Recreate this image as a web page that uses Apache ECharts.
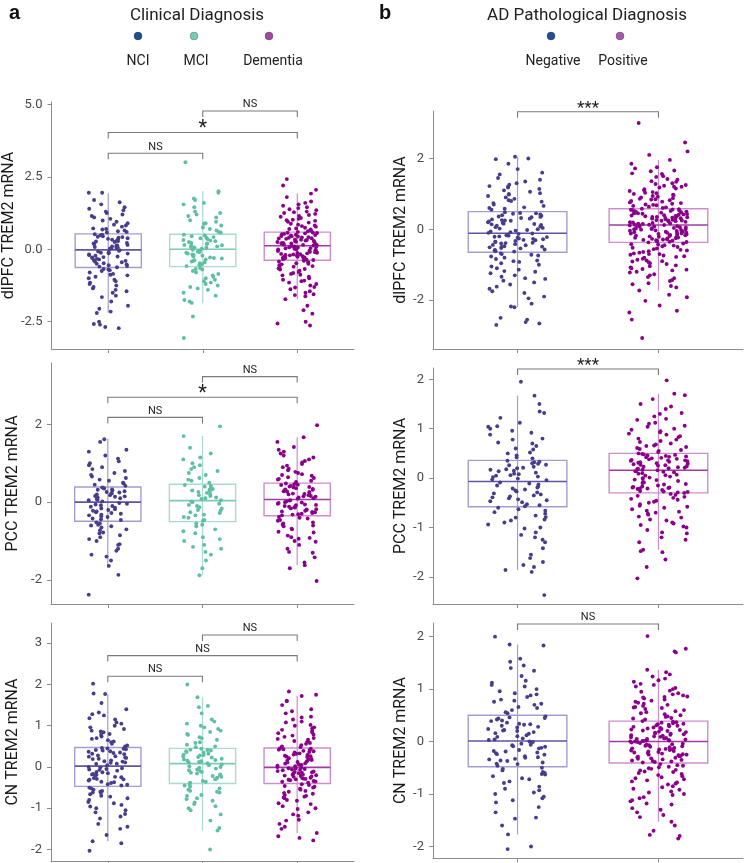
<!DOCTYPE html>
<html><head><meta charset="utf-8">
<script src="https://cdn.jsdelivr.net/npm/echarts@6/dist/echarts.min.js"></script>
<style>html,body{margin:0;padding:0;background:#fff}#c{width:749px;height:863px}</style>
</head><body><div id="c"></div>
<script>
// ---------- labels ----------
const clinicalGroups = ['NCI', 'MCI', 'Dementia'];
const pathGroups = ['Negative', 'Positive'];
const clinicalTitle = 'Clinical Diagnosis';
const pathTitle = 'AD Pathological Diagnosis';
const regionLabels = ['dlPFC TREM2 mRNA', 'PCC TREM2 mRNA', 'CN TREM2 mRNA'];
const panelLetters = ['a', 'b'];

// ---------- tick labels ----------
const ticksDlpfcClinical = [-2.5, 0, 2.5, 5];
const ticksPccClinical = [-2, 0, 2];
const ticksCnClinical = [-2, -1, 0, 1, 2, 3];
const ticksDlpfcPath = [-2, 0, 2];
const ticksPccPath = [-2, -1, 0, 1, 2];
const ticksCnPath = [-2, -1, 0, 1, 2];

// ---------- box stats: [low whisker, Q1, median, Q3, high whisker] ----------
const dlpfcClinicalBox = [[-2.19, -0.63, -0.02, 0.53, 1.93], [-1.86, -0.6, 0.0, 0.52, 2.01], [-1.72, -0.38, 0.12, 0.59, 1.93]];
const pccClinicalBox = [[-1.65, -0.49, 0.0, 0.39, 1.64], [-1.88, -0.5, 0.04, 0.46, 1.7], [-1.62, -0.35, 0.07, 0.49, 1.67]];
const cnClinicalBox = [[-1.8, -0.47, 0.02, 0.47, 1.77], [-1.54, -0.4, 0.08, 0.45, 1.69], [-1.6, -0.4, -0.01, 0.46, 1.72]];
const dlpfcPathBox = [[-2.2, -0.65, -0.11, 0.5, 2.05], [-1.73, -0.37, 0.12, 0.58, 1.96]];
const pccPathBox = [[-1.86, -0.58, -0.07, 0.36, 1.67], [-1.45, -0.3, 0.16, 0.5, 1.71]];
const cnPathBox = [[-1.77, -0.48, 0.01, 0.5, 1.85], [-1.53, -0.41, 0.0, 0.39, 1.37]];

// ---------- significance brackets: [from group, to group, y, label] ----------
const dlpfcClinicalSig = [[2, 3, 4.77, 'NS'], [1, 3, 4.03, '*'], [1, 2, 3.31, 'NS']];
const pccClinicalSig = [[2, 3, 3.23, 'NS'], [1, 3, 2.7, '*'], [1, 2, 2.18, 'NS']];
const cnClinicalSig = [[2, 3, 3.2, 'NS'], [1, 3, 2.7, 'NS'], [1, 2, 2.2, 'NS']];
const dlpfcPathSig = [[1, 2, 3.32, '***']];
const pccPathSig = [[1, 2, 2.21, '***']];
const cnPathSig = [[1, 2, 2.24, 'NS']];

// ---------- individual values ----------
const dlpfcNCI = [0.6,0.72,0.85,1.95,1.7,1.4,1.25,0.95,1.1,0.65,0.78,1.55,1.3,0.9,0.58,1.05,1.62,0.68,1.2,0.82,1.35,0.7,1.95,1.15,0.62,1.45,0.99,
0.5,0.42,0.3,0.12,0.05,0.22,0.35,0.48,0.18,0.02,0.27,0.4,0.08,0.33,0.15,0.45,0.25,0.1,0.38,0.2,0.03,0.52,0.28,0.13,0.43,0.07,0.36,
-0.05,-0.12,-0.2,-0.3,-0.42,-0.55,-0.6,-0.08,-0.25,-0.35,-0.48,-0.15,-0.38,-0.52,-0.03,-0.28,-0.45,-0.18,-0.58,-0.1,-0.33,-0.22,-0.5,-0.4,-0.62,-0.14,-0.27,
-0.7,-0.85,-1.0,-1.2,-1.45,-1.6,-0.75,-0.95,-1.3,-1.8,-2.05,-2.2,-0.68,-1.1,-1.5,-0.9,-1.35,-2.15,-0.8,-1.05,-1.25,-1.65,-0.72,-1.4,-1.15,-0.88,-1.95,
-2.5,-2.6,-2.72,-2.58,-2.68];
const dlpfcMCI = [0.6,0.75,0.9,1.1,1.3,1.55,1.75,2.0,1.95,0.65,0.82,1.0,1.2,1.45,1.7,0.58,0.7,0.95,1.15,1.6,0.88,1.25,
0.5,0.45,0.38,0.3,0.22,0.15,0.08,0.02,0.48,0.35,0.25,0.12,0.05,0.42,0.28,0.18,0.1,0.4,0.32,0.2,0.06,0.14,
-0.05,-0.1,-0.18,-0.25,-0.32,-0.4,-0.48,-0.55,-0.08,-0.15,-0.22,-0.3,-0.38,-0.45,-0.52,-0.58,-0.12,-0.2,-0.35,-0.42,-0.28,-0.02,
-0.65,-0.75,-0.9,-1.05,-1.2,-1.4,-1.6,-1.8,-0.7,-0.85,-1.0,-1.15,-1.3,-1.5,-1.75,-0.8,-0.95,-1.1,-1.25,-1.85,-0.68,-1.35,
3.0,-2.32,-3.06];
const dlpfcDementia = [0.62,0.7,0.78,0.85,0.92,1.0,1.08,1.15,1.22,1.3,1.38,1.45,1.55,1.65,1.8,1.92,0.65,0.74,0.82,0.95,1.05,1.12,1.25,1.35,1.5,1.6,0.6,0.68,0.88,0.98,1.18,1.42,0.72,0.8,1.02,1.28,
0.58,0.55,0.5,0.46,0.42,0.38,0.34,0.3,0.26,0.22,0.18,0.14,0.56,0.52,0.48,0.44,0.4,0.36,0.32,0.28,0.24,0.2,0.16,0.13,0.57,0.49,0.41,0.33,0.25,0.17,0.53,0.45,0.37,0.29,0.21,0.15,
0.1,0.06,0.02,-0.02,-0.06,-0.1,-0.14,-0.18,-0.22,-0.26,-0.3,-0.34,0.08,0.04,0.0,-0.04,-0.08,-0.12,-0.16,-0.2,-0.24,-0.28,-0.32,-0.36,0.11,0.03,-0.05,-0.13,-0.21,-0.29,-0.37,0.07,-0.01,-0.09,-0.17,-0.25,
-0.4,-0.45,-0.5,-0.55,-0.62,-0.7,-0.78,-0.85,-0.95,-1.05,-1.15,-1.25,-1.38,-1.5,-1.62,-1.72,-0.42,-0.48,-0.58,-0.66,-0.74,-0.82,-0.9,-1.0,-1.1,-1.2,-1.32,-1.45,-1.58,-0.52,-0.6,-0.68,-0.88,-1.08,-1.3,-1.55,
2.2,2.42,2.05,-1.95,-2.1,-2.22,-2.5,-2.56,-2.63];

const pccNCI = [0.42,0.5,0.58,0.66,0.75,0.85,0.95,1.05,1.2,1.35,1.55,1.62,0.45,0.55,0.62,0.7,0.8,0.9,1.0,1.12,1.3,0.48,
0.38,0.35,0.32,0.28,0.25,0.22,0.18,0.15,0.12,0.08,0.05,0.02,0.36,0.3,0.26,0.2,0.14,0.1,0.06,0.33,0.23,0.16,
-0.02,-0.06,-0.1,-0.14,-0.18,-0.22,-0.26,-0.3,-0.34,-0.38,-0.42,-0.46,-0.04,-0.08,-0.12,-0.2,-0.28,-0.36,-0.44,-0.16,-0.24,-0.32,
-0.52,-0.58,-0.65,-0.72,-0.8,-0.9,-1.0,-1.1,-1.2,-1.35,-1.5,-1.64,-0.55,-0.62,-0.7,-0.85,-0.95,-1.08,-1.25,-1.4,-0.6,-0.78,
-1.87,-2.38];
const pccMCI = [0.5,0.55,0.62,0.7,0.8,0.9,1.0,1.1,1.25,1.4,1.7,1.95,0.58,0.75,0.95,1.15,0.85,
0.44,0.4,0.36,0.32,0.28,0.24,0.2,0.16,0.12,0.08,0.05,0.42,0.34,0.26,0.18,0.1,0.3,
0.02,-0.04,-0.1,-0.16,-0.22,-0.28,-0.34,-0.4,-0.46,0.0,-0.07,-0.13,-0.2,-0.26,-0.32,-0.38,-0.48,
-0.55,-0.62,-0.7,-0.8,-0.9,-1.0,-1.1,-1.2,-1.35,-1.5,-1.7,-1.88,-0.58,-0.75,-0.95,-1.15,-1.28];
const pccDementia = [0.52,0.58,0.64,0.7,0.78,0.86,0.94,1.02,1.1,1.2,1.3,1.42,1.55,1.67,0.55,0.62,0.68,0.75,0.82,0.9,0.98,1.06,1.15,1.25,1.35,0.6,0.72,
0.48,0.45,0.42,0.39,0.36,0.33,0.3,0.27,0.24,0.21,0.18,0.15,0.12,0.09,0.46,0.4,0.34,0.28,0.22,0.16,0.1,0.44,0.38,0.32,0.26,0.2,0.14,
0.05,0.02,-0.01,-0.04,-0.07,-0.1,-0.13,-0.16,-0.19,-0.22,-0.25,-0.28,-0.31,-0.34,0.04,-0.02,-0.08,-0.14,-0.2,-0.26,-0.32,0.0,-0.06,-0.12,-0.18,-0.24,-0.3,
-0.38,-0.42,-0.48,-0.55,-0.62,-0.7,-0.78,-0.86,-0.94,-1.02,-1.1,-1.2,-1.3,-1.42,-1.55,-1.62,-0.4,-0.46,-0.52,-0.6,-0.68,-0.76,-0.9,-0.92,-1.0,-1.28,-0.58,
1.98,-2.03,-1.7];

const cnNCI = [0.5,0.56,0.62,0.68,0.74,0.8,0.86,0.92,1.0,1.08,1.18,1.28,1.4,1.55,1.77,0.52,0.6,0.7,0.78,0.88,0.96,1.05,1.15,1.25,1.32,0.65,0.84,
0.46,0.43,0.4,0.37,0.34,0.31,0.28,0.25,0.22,0.19,0.16,0.13,0.1,0.07,0.04,0.44,0.38,0.32,0.26,0.2,0.14,0.08,0.45,0.35,0.23,0.11,0.41,
0.0,-0.03,-0.06,-0.09,-0.12,-0.15,-0.18,-0.21,-0.24,-0.27,-0.3,-0.33,-0.36,-0.39,-0.42,-0.45,-0.01,-0.07,-0.13,-0.19,-0.25,-0.31,-0.37,-0.43,-0.05,-0.17,-0.29,
-0.5,-0.55,-0.6,-0.66,-0.72,-0.8,-0.88,-0.96,-1.05,-1.14,-1.25,-1.38,-1.5,-1.65,-1.8,-0.52,-0.58,-0.63,-0.7,-0.85,-0.92,-1.0,-1.1,-1.2,-1.45,-0.62,-0.76,
2.02,1.78,-2.03,-1.85];
const cnMCI = [0.48,0.54,0.6,0.66,0.72,0.8,0.88,0.96,1.05,1.15,1.3,1.45,1.69,0.5,0.58,0.7,0.78,0.85,0.92,1.0,1.1,1.48,
0.44,0.41,0.38,0.35,0.32,0.29,0.26,0.23,0.2,0.17,0.14,0.11,0.09,0.42,0.36,0.3,0.24,0.18,0.12,0.4,0.28,0.15,
0.06,0.02,-0.02,-0.06,-0.1,-0.14,-0.18,-0.22,-0.26,-0.3,-0.34,-0.38,0.04,-0.04,-0.12,-0.2,-0.28,-0.36,0.0,-0.08,-0.16,-0.24,
-0.42,-0.48,-0.55,-0.62,-0.7,-0.78,-0.86,-0.95,-1.05,-1.15,-1.3,-1.54,-0.45,-0.52,-0.6,-0.68,-0.76,-0.9,-1.0,-1.48,-0.58,-0.82,
2.0,-2.0];
const cnDementia = [0.48,0.53,0.58,0.63,0.68,0.73,0.78,0.84,0.9,0.96,1.02,1.08,1.15,1.22,1.3,1.4,1.5,1.6,1.72,0.5,0.56,0.62,0.7,0.76,0.82,0.88,0.94,1.0,1.1,1.2,1.35,0.66,
0.45,0.42,0.39,0.36,0.33,0.3,0.27,0.24,0.21,0.18,0.15,0.12,0.09,0.06,0.03,0.0,0.44,0.38,0.32,0.26,0.2,0.14,0.08,0.02,0.43,0.35,0.25,0.17,0.11,0.05,0.41,0.29,
-0.02,-0.04,-0.06,-0.08,-0.1,-0.12,-0.14,-0.16,-0.18,-0.2,-0.22,-0.24,-0.26,-0.28,-0.3,-0.32,-0.34,-0.36,-0.38,-0.03,-0.07,-0.11,-0.15,-0.19,-0.23,-0.27,-0.31,-0.35,-0.05,-0.13,-0.21,-0.29,
-0.42,-0.46,-0.5,-0.55,-0.6,-0.65,-0.7,-0.76,-0.82,-0.88,-0.95,-1.02,-1.1,-1.18,-1.28,-1.38,-1.5,-1.6,-0.44,-0.48,-0.53,-0.58,-0.63,-0.68,-0.74,-0.8,-0.9,-1.0,-1.15,-1.3,-1.45,-0.72,
1.83,1.75,1.6,-1.78,-1.72,-1.68];

const dlpfcNegative = [0.55,0.62,0.7,0.78,0.86,0.94,1.02,1.1,1.18,1.26,1.35,1.45,1.55,1.7,1.85,2.05,2.0,1.98,0.58,0.66,0.74,0.82,0.9,0.98,1.06,1.14,1.22,1.3,1.4,1.6,0.6,0.8,1.0,1.2,
0.48,0.44,0.4,0.36,0.32,0.28,0.24,0.2,0.16,0.12,0.08,0.04,0.0,-0.04,-0.08,0.46,0.42,0.38,0.34,0.3,0.26,0.22,0.18,0.14,0.1,0.06,0.02,-0.02,-0.06,-0.1,0.45,0.35,0.25,0.15,
-0.12,-0.15,-0.18,-0.21,-0.24,-0.27,-0.3,-0.33,-0.36,-0.39,-0.42,-0.45,-0.48,-0.51,-0.54,-0.57,-0.6,-0.63,-0.13,-0.17,-0.22,-0.26,-0.31,-0.35,-0.4,-0.44,-0.49,-0.53,-0.58,-0.62,-0.2,-0.28,-0.38,-0.5,
-0.68,-0.74,-0.8,-0.88,-0.96,-1.05,-1.14,-1.24,-1.34,-1.45,-1.56,-1.68,-1.8,-1.95,-2.1,-2.2,-0.7,-0.77,-0.84,-0.92,-1.0,-1.1,-1.2,-1.3,-1.4,-1.5,-1.62,-1.75,-1.9,-2.18,-0.72,-0.9,-1.18,-1.38,
-2.5,-2.55,-2.62,-2.7,-2.66];
const dlpfcPositive = [0.6,0.64,0.68,0.72,0.76,0.8,0.84,0.88,0.92,0.96,1.0,1.05,1.1,1.15,1.2,1.25,1.3,1.36,1.42,1.5,1.58,1.66,1.75,1.85,1.96,0.62,0.66,0.7,0.74,0.78,0.82,0.86,0.9,0.94,0.98,1.03,1.08,1.13,1.18,1.23,1.28,1.34,1.4,1.48,1.56,1.64,1.72,0.69,0.85,1.02,1.2,
0.57,0.55,0.53,0.51,0.49,0.47,0.45,0.43,0.41,0.39,0.37,0.35,0.33,0.31,0.29,0.27,0.25,0.23,0.21,0.19,0.17,0.15,0.13,0.56,0.52,0.48,0.44,0.4,0.36,0.32,0.28,0.24,0.2,0.16,0.14,0.54,0.46,0.38,0.3,0.22,0.18,0.5,0.42,0.34,0.26,0.58,0.12,0.13,0.35,0.45,0.25,
0.11,0.09,0.07,0.05,0.03,0.01,-0.01,-0.03,-0.05,-0.07,-0.09,-0.11,-0.13,-0.15,-0.17,-0.19,-0.21,-0.23,-0.25,-0.27,-0.29,-0.31,-0.33,-0.35,-0.37,0.1,0.06,0.02,-0.02,-0.06,-0.1,-0.14,-0.18,-0.22,-0.26,-0.3,-0.34,0.08,0.0,-0.08,-0.16,-0.24,-0.32,0.04,-0.04,-0.12,-0.2,-0.28,-0.36,0.0,-0.1,
-0.4,-0.43,-0.46,-0.5,-0.54,-0.58,-0.62,-0.66,-0.7,-0.74,-0.78,-0.83,-0.88,-0.93,-0.98,-1.04,-1.1,-1.16,-1.22,-1.3,-1.38,-1.46,-1.55,-1.64,-1.73,-0.42,-0.45,-0.48,-0.52,-0.56,-0.6,-0.64,-0.68,-0.72,-0.76,-0.8,-0.86,-0.91,-0.96,-1.02,-1.08,-1.14,-1.2,-1.27,-1.35,-1.43,-1.52,-1.6,-0.7,-0.9,-1.12,
3.0,2.45,2.2,2.1,-1.85,-1.92,-2.02,-2.15,-2.3,-2.35,-2.55,-3.07];

const pccNegative = [0.4,0.46,0.52,0.58,0.65,0.72,0.8,0.88,0.96,1.04,1.12,1.22,1.35,1.5,1.67,0.42,0.5,0.6,0.7,0.78,0.92,1.0,1.32,1.05,
0.35,0.32,0.29,0.26,0.23,0.2,0.17,0.14,0.11,0.08,0.05,0.02,-0.01,-0.04,0.33,0.27,0.21,0.15,0.09,0.03,-0.03,0.3,0.18,0.06,
-0.09,-0.13,-0.17,-0.21,-0.25,-0.29,-0.33,-0.37,-0.41,-0.45,-0.49,-0.53,-0.57,-0.11,-0.15,-0.23,-0.31,-0.39,-0.47,-0.55,-0.19,-0.27,-0.35,-0.43,
-0.6,-0.66,-0.72,-0.79,-0.86,-0.94,-1.02,-1.1,-1.2,-1.3,-1.42,-1.55,-1.7,-1.86,-0.63,-0.69,-0.76,-0.84,-0.9,-1.0,-1.15,-1.25,-1.62,-0.8,
1.95,-2.37,-1.9,-1.8,-1.76];
const pccPositive = [0.53,0.57,0.61,0.65,0.7,0.75,0.8,0.85,0.9,0.95,1.0,1.06,1.12,1.18,1.25,1.32,1.4,1.5,1.6,1.71,0.55,0.59,0.63,0.68,0.73,0.78,0.83,0.88,0.93,0.98,1.04,1.1,1.2,1.3,1.45,0.66,
0.49,0.47,0.45,0.43,0.41,0.39,0.37,0.35,0.33,0.31,0.29,0.27,0.25,0.23,0.21,0.19,0.17,0.48,0.44,0.4,0.36,0.32,0.28,0.24,0.2,0.46,0.38,0.3,0.22,0.18,0.42,0.34,0.26,0.5,0.16,0.36,
0.15,0.12,0.09,0.06,0.03,0.0,-0.03,-0.06,-0.09,-0.12,-0.15,-0.18,-0.21,-0.24,-0.27,-0.3,0.14,0.1,0.05,0.01,-0.04,-0.08,-0.13,-0.17,-0.22,-0.26,-0.29,0.13,0.07,-0.01,-0.1,-0.19,-0.28,-0.2,-0.19,-0.21,
-0.32,-0.36,-0.4,-0.44,-0.48,-0.53,-0.58,-0.63,-0.68,-0.74,-0.8,-0.86,-0.92,-0.98,-1.05,-1.12,-1.2,-1.3,-1.45,-0.34,-0.38,-0.42,-0.46,-0.5,-0.56,-0.6,-0.66,-0.72,-0.78,-0.84,-0.9,-0.95,-1.0,-1.1,-1.25,-0.7,
1.98,1.68,-1.48,-1.65,-1.8,-2.03,-1.5];

const cnNegative = [0.54,0.6,0.66,0.72,0.78,0.85,0.92,1.0,1.08,1.16,1.25,1.35,1.45,1.52,1.85,0.56,0.64,0.7,0.8,0.88,0.96,1.05,1.12,1.4,1.58,0.9,0.76,
0.48,0.45,0.42,0.39,0.36,0.33,0.3,0.27,0.24,0.21,0.18,0.15,0.12,0.09,0.06,0.03,0.46,0.4,0.34,0.28,0.22,0.16,0.1,0.04,0.44,0.32,0.2,
-0.01,-0.04,-0.07,-0.1,-0.13,-0.16,-0.19,-0.22,-0.25,-0.28,-0.31,-0.34,-0.37,-0.4,-0.43,-0.46,0.0,-0.06,-0.12,-0.18,-0.24,-0.3,-0.36,-0.42,-0.09,-0.21,-0.33,
-0.5,-0.55,-0.6,-0.66,-0.72,-0.79,-0.86,-0.93,-1.0,-1.08,-1.16,-1.25,-1.35,-1.47,-1.6,-1.77,-0.52,-0.58,-0.63,-0.7,-0.76,-0.9,-0.97,-1.05,-1.12,-1.45,-0.62,
2.0,1.83,-2.0,-2.05];
const cnPositive = [0.42,0.45,0.48,0.52,0.56,0.6,0.64,0.68,0.72,0.76,0.8,0.84,0.88,0.92,0.97,1.02,1.08,1.14,1.2,1.28,1.37,0.44,0.47,0.5,0.54,0.58,0.62,0.66,0.7,0.74,0.78,0.82,0.86,0.9,0.95,1.0,1.05,1.1,1.17,1.24,1.32,0.65,0.85,
0.38,0.36,0.34,0.32,0.3,0.28,0.26,0.24,0.22,0.2,0.18,0.16,0.14,0.12,0.1,0.08,0.06,0.04,0.02,0.37,0.33,0.29,0.25,0.21,0.17,0.13,0.09,0.05,0.01,0.35,0.27,0.19,0.11,0.03,0.31,0.23,0.15,0.07,0.39,0.0,0.02,0.01,0.05,
-0.01,-0.03,-0.05,-0.07,-0.09,-0.11,-0.13,-0.15,-0.17,-0.19,-0.21,-0.23,-0.25,-0.27,-0.29,-0.31,-0.33,-0.35,-0.37,-0.39,-0.02,-0.06,-0.1,-0.14,-0.18,-0.22,-0.26,-0.3,-0.34,-0.38,-0.04,-0.12,-0.2,-0.28,-0.36,-0.08,-0.16,-0.24,-0.32,-0.4,0.0,-0.15,-0.25,
-0.43,-0.46,-0.49,-0.52,-0.55,-0.58,-0.62,-0.66,-0.7,-0.74,-0.78,-0.82,-0.87,-0.92,-0.97,-1.02,-1.08,-1.14,-1.2,-1.27,-1.35,-1.44,-1.53,-0.45,-0.48,-0.51,-0.54,-0.57,-0.6,-0.64,-0.68,-0.72,-0.76,-0.8,-0.85,-0.9,-0.95,-1.0,-1.06,-1.12,-1.18,-1.3,-1.4,
2.01,1.77,1.72,1.7,-1.6,-1.7,-1.78,-1.8,-1.85];

// ---------- styling ----------
const FONT = 'Roboto';
const styleNCI = { point: '#483d8b', box: '#a39dd2', med: '#5e55a8' };
const styleMCI = { point: '#5fc09e', box: '#a9dccb', med: '#7ccbb0' };
const styleDem = { point: '#8b008b', box: '#cf8ccf', med: '#a23aa6' };
const clinicalStyles = [styleNCI, styleMCI, styleDem];
const pathStyles = [styleNCI, styleDem];
const clinicalLegendColors = ['#1f4f8e', '#79c9b6', '#9c4c9f'];
const pathLegendColors = ['#1f4f8e', '#a55aa8'];

const panels = [
  { grid: { left: 50, top: 102, width: 304, height: 247 }, xMax: 3.6, yMin: -3.44, yMax: 5.08, ticks: ticksDlpfcClinical, dec: 1, name: regionLabels[0], box: dlpfcClinicalBox, pts: [dlpfcNCI, dlpfcMCI, dlpfcDementia], st: clinicalStyles, sig: dlpfcClinicalSig, gap: 27 },
  { grid: { left: 433, top: 111, width: 310, height: 238 }, xMax: 2.6, yMin: -3.38, yMax: 3.34, ticks: ticksDlpfcPath, dec: 0, name: regionLabels[0], box: dlpfcPathBox, pts: [dlpfcNegative, dlpfcPositive], st: pathStyles, sig: dlpfcPathSig, gap: 19 },
  { grid: { left: 51, top: 363, width: 303, height: 241 }, xMax: 3.6, yMin: -2.62, yMax: 3.58, ticks: ticksPccClinical, dec: 0, name: regionLabels[1], box: pccClinicalBox, pts: [pccNCI, pccMCI, pccDementia], st: clinicalStyles, sig: pccClinicalSig, gap: 30 },
  { grid: { left: 433, top: 368, width: 310, height: 236 }, xMax: 2.6, yMin: -2.55, yMax: 2.23, ticks: ticksPccPath, dec: 0, name: regionLabels[1], box: pccPathBox, pts: [pccNegative, pccPositive], st: pathStyles, sig: pccPathSig, gap: 19 },
  { grid: { left: 51, top: 623, width: 303, height: 238 }, xMax: 3.6, yMin: -2.28, yMax: 3.49, ticks: ticksCnClinical, dec: 0, name: regionLabels[2], box: cnClinicalBox, pts: [cnNCI, cnMCI, cnDementia], st: clinicalStyles, sig: cnClinicalSig, gap: 30 },
  { grid: { left: 433, top: 623, width: 310, height: 235 }, xMax: 2.6, yMin: -2.22, yMax: 2.26, ticks: ticksCnPath, dec: 0, name: regionLabels[2], box: cnPathBox, pts: [cnNegative, cnPositive], st: pathStyles, sig: cnPathSig, gap: 19 }
];

function jitter(i, g) {
  const s = Math.sin(i * 127.1 + g * 311.7 + 0.5) * 43758.5453;
  return (s - Math.floor(s) - 0.5) * 0.42;
}

const grids = [], xAxes = [], yAxes = [], series = [];
panels.forEach((p, k) => {
  grids.push(Object.assign({ containLabel: false }, p.grid));
  const xTicks = p.box.map((_, i) => i + 1);
  xAxes.push({
    type: 'value', gridIndex: k, min: 0.4, max: p.xMax,
    splitLine: { show: false },
    axisLine: { show: true, onZero: false, lineStyle: { color: '#8c8c8c', width: 1 } },
    axisTick: { show: true, length: 4, customValues: xTicks, lineStyle: { color: '#8c8c8c' } },
    axisLabel: { show: false }
  });
  yAxes.push({
    type: 'value', gridIndex: k, min: p.yMin, max: p.yMax,
    name: p.name, nameLocation: 'middle', nameGap: p.gap,
    nameTextStyle: { fontFamily: FONT, fontSize: 16, color: '#1a1a1a' },
    splitLine: { show: false },
    axisLine: { show: true, onZero: false, lineStyle: { color: '#8c8c8c', width: 1 } },
    axisTick: { show: true, length: 4, customValues: p.ticks, lineStyle: { color: '#8c8c8c' } },
    axisLabel: { show: true, customValues: p.ticks, margin: 9, fontFamily: FONT, fontSize: 13, color: '#4a4a4a',
      formatter: v => Number(v).toFixed(p.dec) }
  });
  // boxes
  const boxData = p.box.map((b, i) => [i + 1, b[0], b[1], b[2], b[3], b[4]]);
  series.push({
    type: 'custom', xAxisIndex: k, yAxisIndex: k, z: 2, silent: true,
    data: boxData,
    renderItem: (params, api) => {
      const x = api.value(0), lo = api.value(1), q1 = api.value(2), md = api.value(3), q3 = api.value(4), hi = api.value(5);
      const half = 0.35;
      const s = p.st[params.dataIndex];
      const a = api.coord([x, lo]), b = api.coord([x, hi]);
      const tl = api.coord([x - half, q3]), br = api.coord([x + half, q1]);
      const ml = api.coord([x - half, md]), mr = api.coord([x + half, md]);
      return { type: 'group', children: [
        { type: 'line', shape: { x1: a[0], y1: a[1], x2: b[0], y2: b[1] }, style: { stroke: s.box, lineWidth: 1.2 } },
        { type: 'rect', shape: { x: tl[0], y: tl[1], width: br[0] - tl[0], height: br[1] - tl[1] }, style: { fill: 'rgba(255,255,255,0)', stroke: s.box, lineWidth: 1.4 } },
        { type: 'line', shape: { x1: ml[0], y1: ml[1], x2: mr[0], y2: mr[1] }, style: { stroke: s.med, lineWidth: 1.6 } }
      ]};
    }
  });
  // points
  p.pts.forEach((vals, g) => {
    series.push({
      type: 'scatter', xAxisIndex: k, yAxisIndex: k, z: 3, silent: true,
      symbol: 'circle', symbolSize: 3.9,
      itemStyle: { color: p.st[g].point, opacity: 1 },
      data: vals.map((v, i) => [g + 1 + jitter(i, g + k * 3), v])
    });
  });
  // significance brackets
  series.push({
    type: 'custom', xAxisIndex: k, yAxisIndex: k, z: 4, silent: true, clip: false,
    data: p.sig.map(s => [s[0], s[1], s[2]]),
    renderItem: (params, api) => {
      const item = p.sig[params.dataIndex];
      const L = api.coord([api.value(0), api.value(2)]);
      const R = api.coord([api.value(1), api.value(2)]);
      const leg = 6;
      const lab = item[3];
      const isStar = lab.indexOf('*') >= 0;
      const fs = lab === '*' ? 20 : (lab === '***' ? 17 : 11);
      return { type: 'group', children: [
        { type: 'polyline', shape: { points: [[L[0], L[1] + leg], [L[0], L[1]], [R[0], R[1]], [R[0], R[1] + leg]] },
          style: { stroke: '#7a7a7a', lineWidth: 1.1, fill: null } },
        { type: 'text', x: (L[0] + R[0]) / 2, y: isStar ? L[1] - 3 : L[1] - 1,
          style: { text: lab, fontFamily: FONT, fontSize: fs, fill: '#222', align: 'center', verticalAlign: isStar ? 'middle' : 'bottom' } }
      ]};
    }
  });
});

// legends & panel letters
const graphics = [];
function addLegend(title, labels, colors, titleX, dotXs, labelXs) {
  graphics.push({ type: 'text', x: titleX, y: 16, style: { text: title, fontFamily: FONT, fontSize: 17, fill: '#222', align: 'center', verticalAlign: 'middle' } });
  labels.forEach((l, i) => {
    graphics.push({ type: 'circle', shape: { cx: dotXs[i], cy: 36, r: 4 }, style: { fill: colors[i], stroke: 'rgba(0,0,0,0.25)', lineWidth: 0.8 } });
    graphics.push({ type: 'text', x: labelXs[i], y: 61, style: { text: l, fontFamily: FONT, fontSize: 14, fill: '#222', align: 'center', verticalAlign: 'middle' } });
  });
}
addLegend(clinicalTitle, clinicalGroups, clinicalLegendColors, 197, [138, 194, 269], [138, 196, 273]);
addLegend(pathTitle, pathGroups, pathLegendColors, 587, [551, 620], [553, 623]);
graphics.push({ type: 'text', x: 9, y: 13, style: { text: panelLetters[0], fontFamily: 'Liberation Sans', fontWeight: 'bold', fontSize: 20, fill: '#111', verticalAlign: 'middle' } });
graphics.push({ type: 'text', x: 379, y: 13, style: { text: panelLetters[1], fontFamily: 'Liberation Sans', fontWeight: 'bold', fontSize: 20, fill: '#111', verticalAlign: 'middle' } });

const chart = echarts.init(document.getElementById('c'), null, { renderer: 'canvas' });
chart.setOption({
  animation: false,
  backgroundColor: '#ffffff',
  textStyle: { fontFamily: FONT },
  grid: grids, xAxis: xAxes, yAxis: yAxes, series: series,
  graphic: graphics
});
</script></body></html>
